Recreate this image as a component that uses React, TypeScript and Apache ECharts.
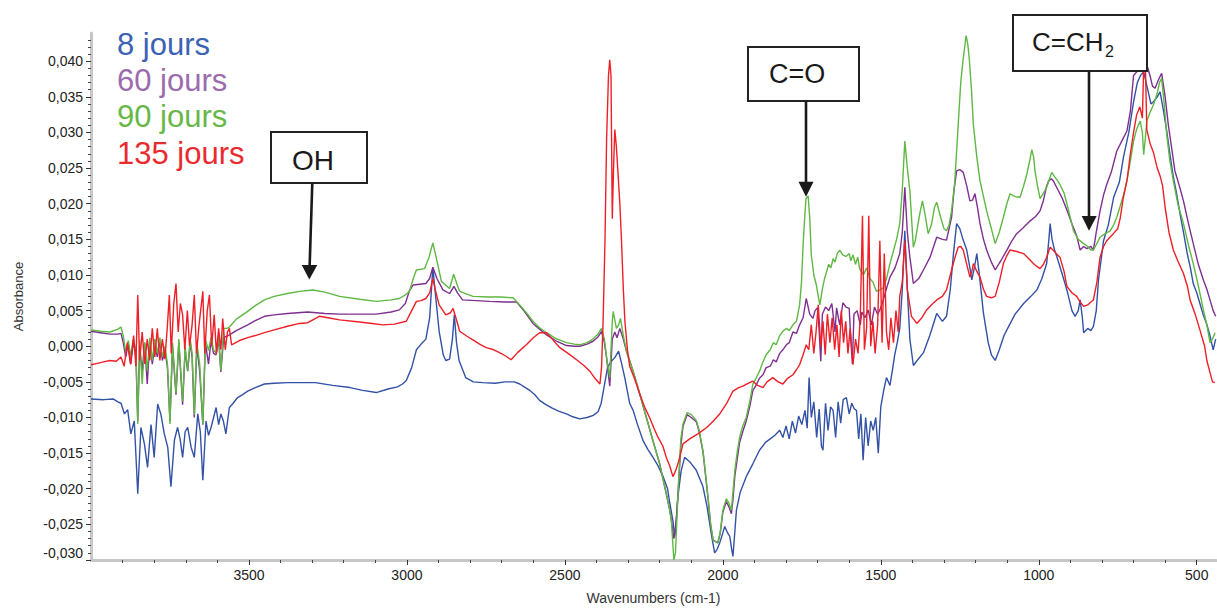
import React, { useEffect, useRef } from "react";
import * as echarts from "echarts";

// ---- data (wavenumber cm-1, absorbance) ----
const jours8: [number, number][] = [
  [4000,-0.0074],[3960,-0.0075],[3930,-0.0074],[3915,-0.0078],[3905,-0.0080],[3894,-0.0095],[3884,-0.0089],[3874,-0.0123],[3863,-0.0105],[3852,-0.0207],[3842,-0.0114],[3831,-0.0137],[3821,-0.0170],[3810,-0.0110],[3800,-0.0156],[3789,-0.0081],[3779,-0.0095],[3768,-0.0123],[3757,-0.0142],[3747,-0.0197],[3736,-0.0132],[3726,-0.0114],[3718,-0.0130],[3710,-0.0156],[3702,-0.0120],[3694,-0.0114],[3683,-0.0142],[3673,-0.0156],[3662,-0.0095],[3654,-0.0120],[3646,-0.0188],[3636,-0.0105],[3628,-0.0125],[3620,-0.0114],[3612,-0.0100],[3604,-0.0086],[3596,-0.0110],[3589,-0.0095],[3581,-0.0105],[3573,-0.0123],[3562,-0.0086],[3550,-0.0080],[3536,-0.0072],[3520,-0.0068],[3504,-0.0063],[3480,-0.0058],[3451,-0.0053],[3420,-0.0052],[3378,-0.0051],[3335,-0.0051],[3290,-0.0051],[3235,-0.0055],[3180,-0.0058],[3140,-0.0062],[3097,-0.0065],[3060,-0.0060],[3030,-0.0057],[3014,-0.0053],[3002,-0.0048],[2985,-0.0030],[2970,-0.0005],[2955,0.0003],[2940,0.0010],[2928,0.0040],[2918,0.0110],[2908,0.0065],[2898,0.0021],[2885,-0.0012],[2877,-0.0020],[2865,-0.0018],[2856,0.0010],[2850,0.0044],[2843,0.0005],[2835,-0.0020],[2814,-0.0044],[2790,-0.0050],[2760,-0.0051],[2720,-0.0052],[2690,-0.0050],[2660,-0.0050],[2643,-0.0053],[2625,-0.0058],[2611,-0.0062],[2595,-0.0068],[2580,-0.0076],[2560,-0.0082],[2540,-0.0087],[2520,-0.0091],[2495,-0.0095],[2475,-0.0099],[2453,-0.0102],[2430,-0.0100],[2410,-0.0097],[2395,-0.0092],[2385,-0.0080],[2375,-0.0055],[2365,-0.0030],[2355,-0.0022],[2342,-0.0016],[2330,-0.0007],[2320,-0.0025],[2310,-0.0045],[2295,-0.0080],[2284,-0.0090],[2270,-0.0110],[2253,-0.0132],[2237,-0.0145],[2221,-0.0156],[2205,-0.0168],[2189,-0.0183],[2175,-0.0200],[2168,-0.0220],[2158,-0.0245],[2152,-0.0267],[2147,-0.0240],[2142,-0.0210],[2132,-0.0175],[2121,-0.0156],[2105,-0.0162],[2084,-0.0174],[2063,-0.0197],[2050,-0.0225],[2042,-0.0248],[2034,-0.0270],[2026,-0.0290],[2018,-0.0285],[2010,-0.0276],[2000,-0.0262],[1994,-0.0253],[1985,-0.0262],[1978,-0.0267],[1972,-0.0285],[1968,-0.0295],[1962,-0.0260],[1957,-0.0230],[1945,-0.0205],[1926,-0.0183],[1905,-0.0165],[1884,-0.0146],[1865,-0.0135],[1850,-0.0130],[1835,-0.0125],[1820,-0.0118],[1810,-0.0128],[1800,-0.0112],[1790,-0.0130],[1780,-0.0105],[1770,-0.0122],[1760,-0.0098],[1750,-0.0110],[1740,-0.0090],[1733,-0.0115],[1727,-0.0044],[1720,-0.0100],[1712,-0.0078],[1703,-0.0128],[1695,-0.0088],[1688,-0.0140],[1683,-0.0146],[1675,-0.0080],[1667,-0.0118],[1659,-0.0085],[1651,-0.0090],[1643,-0.0128],[1635,-0.0078],[1627,-0.0108],[1619,-0.0075],[1609,-0.0072],[1600,-0.0095],[1592,-0.0080],[1584,-0.0088],[1577,-0.0090],[1570,-0.0130],[1563,-0.0095],[1556,-0.0160],[1548,-0.0100],[1540,-0.0140],[1532,-0.0105],[1524,-0.0118],[1516,-0.0100],[1508,-0.0150],[1500,-0.0085],[1490,-0.0060],[1482,-0.0044],[1471,-0.0055],[1462,-0.0030],[1456,-0.0012],[1448,0.0005],[1440,0.0025],[1432,0.0080],[1424,0.0162],[1416,0.0080],[1408,0.0010],[1397,-0.0027],[1385,-0.0020],[1365,-0.0009],[1345,0.0015],[1323,0.0046],[1305,0.0035],[1292,0.0042],[1280,0.0080],[1270,0.0130],[1260,0.0172],[1250,0.0165],[1240,0.0150],[1228,0.0135],[1218,0.0110],[1212,0.0093],[1204,0.0110],[1196,0.0130],[1188,0.0100],[1175,0.0046],[1160,0.0005],[1150,-0.0012],[1138,-0.0020],[1125,-0.0005],[1110,0.0015],[1101,0.0023],[1075,0.0045],[1048,0.0060],[1025,0.0070],[1006,0.0079],[990,0.0095],[975,0.0116],[968,0.0150],[964,0.0172],[958,0.0150],[950,0.0135],[943,0.0126],[925,0.0100],[911,0.0079],[895,0.0050],[885,0.0042],[875,0.0050],[869,0.0065],[862,0.0040],[858,0.0019],[845,0.0025],[835,0.0022],[827,0.0028],[818,0.0050],[811,0.0093],[803,0.0120],[795,0.0148],[780,0.0170],[763,0.0209],[745,0.0230],[732,0.0265],[715,0.0300],[700,0.0343],[688,0.0370],[678,0.0380],[668,0.0385],[655,0.0360],[645,0.0340],[637,0.0343],[625,0.0350],[616,0.0357],[605,0.0330],[595,0.0302],[585,0.0270],[575,0.0240],[564,0.0215],[553,0.0186],[542,0.0160],[530,0.0130],[520,0.0110],[511,0.0088],[500,0.0075],[490,0.0060],[480,0.0045],[469,0.0032],[458,0.0015],[448,-0.0005],[440,0.0010]
];

const jours60: [number, number][] = [
  [4000,0.0021],[3970,0.0019],[3940,0.0017],[3915,0.0017],[3905,0.0018],[3898,0.0005],[3890,-0.0015],[3882,0.0003],[3874,-0.0025],[3866,0.0005],[3858,-0.0010],[3852,-0.0105],[3846,0.0000],[3838,-0.0035],[3830,0.0005],[3822,-0.0053],[3814,0.0005],[3806,-0.0025],[3798,0.0000],[3790,-0.0015],[3782,0.0008],[3774,-0.0020],[3766,-0.0005],[3758,-0.0030],[3750,-0.0105],[3742,0.0000],[3731,-0.0068],[3722,0.0005],[3710,-0.0082],[3702,-0.0005],[3694,-0.0035],[3686,0.0005],[3680,-0.0015],[3673,-0.0100],[3665,0.0000],[3656,-0.0035],[3646,-0.0110],[3638,0.0005],[3628,-0.0025],[3620,0.0008],[3612,-0.0010],[3604,-0.0012],[3596,0.0010],[3589,-0.0036],[3580,0.0012],[3570,0.0014],[3562,0.0016],[3540,0.0022],[3504,0.0030],[3480,0.0036],[3451,0.0042],[3420,0.0044],[3378,0.0046],[3314,0.0048],[3260,0.0046],[3213,0.0045],[3150,0.0045],[3097,0.0045],[3050,0.0048],[3024,0.0051],[3005,0.0060],[2992,0.0078],[2980,0.0086],[2960,0.0087],[2940,0.0088],[2928,0.0095],[2918,0.0111],[2905,0.0095],[2886,0.0079],[2865,0.0074],[2851,0.0084],[2840,0.0075],[2824,0.0065],[2780,0.0064],[2738,0.0063],[2690,0.0062],[2653,0.0062],[2630,0.0050],[2601,0.0032],[2580,0.0024],[2558,0.0016],[2530,0.0008],[2495,0.0001],[2470,0.0000],[2453,0.0000],[2430,0.0003],[2411,0.0007],[2395,0.0013],[2384,0.0021],[2375,0.0005],[2368,-0.0016],[2358,-0.0056],[2350,0.0010],[2342,0.0020],[2335,0.0012],[2326,0.0025],[2315,0.0010],[2305,-0.0007],[2284,-0.0035],[2263,-0.0067],[2242,-0.0100],[2221,-0.0133],[2200,-0.0165],[2179,-0.0207],[2168,-0.0230],[2163,-0.0244],[2155,-0.0270],[2148,-0.0250],[2142,-0.0207],[2133,-0.0140],[2126,-0.0112],[2113,-0.0096],[2100,-0.0100],[2084,-0.0106],[2075,-0.0120],[2063,-0.0148],[2055,-0.0180],[2047,-0.0213],[2039,-0.0250],[2031,-0.0272],[2016,-0.0276],[2008,-0.0262],[2000,-0.0233],[1989,-0.0218],[1981,-0.0225],[1973,-0.0235],[1968,-0.0215],[1962,-0.0182],[1955,-0.0160],[1947,-0.0135],[1937,-0.0120],[1926,-0.0105],[1915,-0.0085],[1905,-0.0062],[1895,-0.0055],[1884,-0.0045],[1873,-0.0040],[1863,-0.0030],[1850,-0.0028],[1840,-0.0019],[1831,-0.0022],[1820,-0.0010],[1810,-0.0005],[1799,0.0002],[1790,0.0005],[1778,0.0020],[1767,0.0018],[1757,0.0030],[1746,0.0040],[1736,0.0067],[1725,0.0045],[1715,0.0039],[1708,0.0050],[1700,0.0054],[1695,0.0020],[1690,-0.0021],[1685,0.0045],[1675,0.0055],[1665,0.0050],[1655,0.0060],[1645,0.0020],[1640,0.0054],[1630,0.0030],[1620,0.0061],[1610,0.0055],[1600,0.0053],[1595,0.0010],[1590,-0.0025],[1585,0.0045],[1575,0.0050],[1565,0.0030],[1560,0.0048],[1550,0.0040],[1540,0.0051],[1530,0.0030],[1520,0.0055],[1510,0.0045],[1503,0.0051],[1492,0.0065],[1482,0.0081],[1471,0.0097],[1455,0.0110],[1440,0.0130],[1432,0.0160],[1424,0.0223],[1416,0.0160],[1408,0.0125],[1397,0.0088],[1380,0.0095],[1365,0.0107],[1344,0.0125],[1323,0.0153],[1305,0.0150],[1292,0.0149],[1276,0.0181],[1268,0.0220],[1260,0.0246],[1250,0.0248],[1239,0.0244],[1228,0.0225],[1218,0.0204],[1210,0.0205],[1202,0.0214],[1194,0.0195],[1186,0.0172],[1175,0.0150],[1165,0.0135],[1150,0.0118],[1138,0.0107],[1120,0.0120],[1101,0.0135],[1085,0.0148],[1070,0.0158],[1050,0.0166],[1027,0.0176],[1010,0.0182],[996,0.0190],[985,0.0205],[975,0.0225],[969,0.0232],[960,0.0235],[954,0.0232],[940,0.0220],[927,0.0209],[910,0.0190],[895,0.0172],[880,0.0155],[869,0.0135],[858,0.0140],[848,0.0137],[835,0.0140],[827,0.0135],[818,0.0160],[806,0.0190],[795,0.0212],[785,0.0227],[770,0.0245],[753,0.0274],[735,0.0290],[721,0.0302],[710,0.0330],[700,0.0380],[690,0.0385],[679,0.0390],[668,0.0404],[658,0.0395],[648,0.0380],[640,0.0365],[632,0.0362],[620,0.0375],[611,0.0383],[600,0.0350],[590,0.0311],[580,0.0280],[569,0.0246],[555,0.0225],[542,0.0204],[525,0.0170],[511,0.0144],[495,0.0115],[479,0.0093],[468,0.0080],[458,0.0065],[448,0.0050],[440,0.0042]
];

const jours90: [number, number][] = [
  [4000,0.0023],[3970,0.0021],[3940,0.0020],[3915,0.0024],[3905,0.0027],[3898,0.0015],[3890,-0.0008],[3882,0.0008],[3874,-0.0014],[3866,0.0010],[3858,-0.0005],[3852,-0.0109],[3846,0.0008],[3838,-0.0053],[3830,0.0005],[3822,-0.0034],[3814,0.0012],[3806,-0.0020],[3798,0.0010],[3790,-0.0010],[3782,0.0012],[3774,-0.0015],[3766,0.0000],[3758,-0.0025],[3750,-0.0109],[3742,0.0005],[3731,-0.0066],[3722,0.0010],[3710,-0.0078],[3702,0.0000],[3694,-0.0034],[3686,0.0010],[3680,-0.0010],[3673,-0.0096],[3665,0.0005],[3656,-0.0025],[3646,-0.0109],[3638,0.0010],[3628,-0.0006],[3620,0.0012],[3612,-0.0005],[3604,-0.0010],[3596,0.0015],[3589,-0.0034],[3580,0.0025],[3570,0.0025],[3562,0.0027],[3540,0.0038],[3504,0.0049],[3480,0.0057],[3451,0.0065],[3420,0.0070],[3378,0.0074],[3340,0.0077],[3298,0.0079],[3260,0.0076],[3213,0.0070],[3150,0.0066],[3097,0.0063],[3050,0.0065],[3024,0.0067],[3005,0.0072],[2992,0.0077],[2980,0.0095],[2970,0.0107],[2944,0.0109],[2930,0.0125],[2918,0.0145],[2905,0.0120],[2891,0.0091],[2865,0.0081],[2852,0.0101],[2840,0.0085],[2833,0.0077],[2791,0.0070],[2740,0.0069],[2700,0.0069],[2664,0.0068],[2643,0.0058],[2620,0.0046],[2601,0.0035],[2580,0.0026],[2558,0.0019],[2530,0.0011],[2495,0.0005],[2470,0.0003],[2453,0.0002],[2430,0.0005],[2411,0.0010],[2395,0.0017],[2384,0.0025],[2375,0.0010],[2368,-0.0016],[2358,-0.0044],[2350,0.0035],[2347,0.0049],[2337,0.0025],[2330,0.0030],[2324,0.0039],[2315,0.0015],[2305,-0.0007],[2284,-0.0035],[2263,-0.0067],[2242,-0.0100],[2221,-0.0133],[2200,-0.0165],[2179,-0.0207],[2168,-0.0230],[2163,-0.0244],[2158,-0.0280],[2155,-0.0300],[2150,-0.0290],[2142,-0.0207],[2133,-0.0130],[2126,-0.0109],[2113,-0.0093],[2100,-0.0096],[2084,-0.0104],[2075,-0.0118],[2063,-0.0146],[2055,-0.0178],[2047,-0.0211],[2039,-0.0248],[2031,-0.0272],[2016,-0.0276],[2008,-0.0260],[2000,-0.0230],[1989,-0.0214],[1981,-0.0220],[1973,-0.0230],[1968,-0.0205],[1962,-0.0174],[1955,-0.0150],[1947,-0.0128],[1937,-0.0112],[1926,-0.0100],[1915,-0.0078],[1905,-0.0053],[1895,-0.0045],[1884,-0.0035],[1873,-0.0022],[1863,-0.0012],[1850,-0.0005],[1840,0.0005],[1831,0.0002],[1820,0.0015],[1810,0.0021],[1799,0.0025],[1790,0.0022],[1778,0.0030],[1767,0.0035],[1757,0.0058],[1751,0.0090],[1746,0.0142],[1741,0.0180],[1737,0.0207],[1730,0.0211],[1725,0.0180],[1720,0.0128],[1712,0.0100],[1704,0.0086],[1698,0.0070],[1693,0.0058],[1685,0.0080],[1678,0.0095],[1672,0.0104],[1665,0.0115],[1658,0.0110],[1651,0.0123],[1645,0.0118],[1638,0.0130],[1630,0.0135],[1620,0.0128],[1610,0.0126],[1600,0.0130],[1595,0.0120],[1588,0.0128],[1580,0.0115],[1573,0.0125],[1567,0.0109],[1555,0.0100],[1545,0.0110],[1535,0.0095],[1525,0.0090],[1514,0.0077],[1503,0.0079],[1492,0.0082],[1482,0.0095],[1471,0.0116],[1461,0.0132],[1450,0.0150],[1440,0.0172],[1432,0.0220],[1424,0.0288],[1416,0.0250],[1408,0.0218],[1397,0.0139],[1390,0.0150],[1382,0.0172],[1375,0.0190],[1368,0.0204],[1360,0.0185],[1350,0.0158],[1340,0.0170],[1330,0.0195],[1323,0.0202],[1310,0.0180],[1300,0.0165],[1292,0.0162],[1284,0.0170],[1276,0.0190],[1266,0.0230],[1255,0.0311],[1247,0.0370],[1239,0.0404],[1230,0.0436],[1225,0.0425],[1220,0.0404],[1213,0.0360],[1207,0.0311],[1196,0.0265],[1186,0.0232],[1175,0.0210],[1165,0.0190],[1150,0.0165],[1138,0.0144],[1125,0.0160],[1112,0.0181],[1101,0.0200],[1091,0.0214],[1075,0.0210],[1059,0.0209],[1048,0.0225],[1038,0.0241],[1028,0.0262],[1022,0.0276],[1016,0.0265],[1012,0.0246],[1004,0.0225],[996,0.0207],[985,0.0215],[975,0.0223],[966,0.0235],[959,0.0244],[950,0.0238],[940,0.0232],[933,0.0227],[920,0.0215],[911,0.0200],[900,0.0180],[890,0.0162],[875,0.0150],[858,0.0144],[845,0.0140],[835,0.0135],[827,0.0135],[815,0.0145],[806,0.0153],[790,0.0158],[774,0.0162],[763,0.0170],[753,0.0181],[740,0.0200],[730,0.0215],[721,0.0232],[710,0.0260],[700,0.0288],[690,0.0305],[679,0.0316],[672,0.0300],[668,0.0269],[663,0.0290],[658,0.0316],[648,0.0328],[637,0.0339],[625,0.0355],[618,0.0370],[611,0.0376],[603,0.0340],[595,0.0297],[585,0.0260],[574,0.0232],[560,0.0200],[542,0.0172],[525,0.0140],[511,0.0116],[495,0.0085],[479,0.0051],[468,0.0030],[458,0.0005],[450,0.0010],[442,0.0019]
];

const jours135: [number, number][] = [
  [4000,-0.0026],[3980,-0.0024],[3960,-0.0022],[3940,-0.0020],[3920,-0.0021],[3905,-0.0015],[3895,-0.0028],[3885,0.0005],[3875,-0.0025],[3865,0.0015],[3858,-0.0028],[3852,0.0072],[3846,-0.0020],[3838,0.0020],[3830,-0.0025],[3822,0.0010],[3814,-0.0020],[3806,0.0025],[3798,-0.0015],[3790,0.0025],[3782,-0.0020],[3774,0.0010],[3766,-0.0018],[3758,0.0030],[3752,0.0072],[3746,-0.0010],[3738,0.0060],[3731,0.0088],[3724,0.0020],[3717,0.0060],[3710,0.0044],[3703,-0.0005],[3695,0.0050],[3688,0.0000],[3680,0.0030],[3673,0.0072],[3666,-0.0010],[3658,0.0030],[3646,0.0077],[3640,-0.0010],[3632,0.0050],[3625,0.0072],[3618,0.0000],[3610,0.0044],[3603,-0.0010],[3596,0.0025],[3589,-0.0005],[3583,0.0039],[3575,-0.0005],[3568,0.0020],[3562,0.0025],[3555,0.0002],[3530,0.0008],[3504,0.0012],[3480,0.0015],[3451,0.0019],[3420,0.0023],[3378,0.0028],[3340,0.0032],[3314,0.0033],[3277,0.0042],[3250,0.0040],[3213,0.0037],[3150,0.0034],[3110,0.0032],[3076,0.0030],[3040,0.0031],[3002,0.0035],[2985,0.0050],[2970,0.0063],[2955,0.0064],[2940,0.0067],[2928,0.0075],[2918,0.0095],[2908,0.0075],[2898,0.0058],[2877,0.0044],[2862,0.0047],[2854,0.0053],[2845,0.0040],[2833,0.0021],[2810,0.0014],[2791,0.0009],[2770,0.0003],[2749,-0.0002],[2725,-0.0005],[2707,-0.0009],[2690,-0.0013],[2670,-0.0019],[2650,-0.0009],[2622,0.0002],[2600,0.0012],[2580,0.0019],[2558,0.0019],[2540,0.0010],[2516,-0.0002],[2490,-0.0010],[2463,-0.0019],[2440,-0.0027],[2421,-0.0035],[2405,-0.0045],[2389,-0.0053],[2384,-0.0030],[2379,0.0035],[2373,0.0150],[2368,0.0290],[2362,0.0380],[2358,0.0402],[2354,0.0380],[2350,0.0179],[2346,0.0250],[2342,0.0304],[2337,0.0280],[2332,0.0244],[2326,0.0200],[2321,0.0151],[2315,0.0080],[2310,0.0035],[2302,-0.0005],[2295,-0.0028],[2280,-0.0045],[2263,-0.0067],[2248,-0.0085],[2232,-0.0100],[2218,-0.0115],[2205,-0.0128],[2190,-0.0140],[2179,-0.0156],[2168,-0.0168],[2158,-0.0183],[2150,-0.0175],[2142,-0.0165],[2126,-0.0137],[2105,-0.0130],[2079,-0.0123],[2051,-0.0114],[2030,-0.0105],[2010,-0.0095],[1989,-0.0081],[1968,-0.0063],[1950,-0.0058],[1937,-0.0056],[1920,-0.0052],[1905,-0.0049],[1890,-0.0055],[1873,-0.0058],[1860,-0.0050],[1842,-0.0044],[1825,-0.0050],[1810,-0.0053],[1795,-0.0045],[1778,-0.0040],[1767,-0.0033],[1757,-0.0026],[1746,-0.0012],[1736,0.0002],[1728,-0.0005],[1720,0.0030],[1712,-0.0010],[1705,0.0020],[1698,0.0058],[1690,0.0000],[1683,0.0035],[1676,-0.0012],[1669,0.0045],[1661,0.0005],[1654,0.0040],[1646,-0.0005],[1639,0.0030],[1632,-0.0015],[1625,0.0050],[1618,0.0005],[1611,0.0035],[1604,-0.0010],[1597,0.0025],[1588,-0.0026],[1580,0.0010],[1572,-0.0010],[1565,0.0040],[1558,0.0183],[1552,-0.0005],[1545,0.0025],[1538,0.0183],[1532,0.0000],[1525,0.0035],[1518,-0.0010],[1510,0.0030],[1503,0.0148],[1496,0.0005],[1489,0.0130],[1482,0.0020],[1475,-0.0005],[1468,0.0040],[1460,0.0005],[1452,0.0050],[1445,0.0020],[1440,0.0070],[1432,0.0090],[1424,0.0148],[1416,0.0080],[1403,0.0042],[1386,0.0032],[1370,0.0040],[1355,0.0051],[1340,0.0058],[1323,0.0065],[1305,0.0070],[1292,0.0079],[1276,0.0107],[1265,0.0125],[1255,0.0139],[1247,0.0140],[1239,0.0135],[1228,0.0115],[1218,0.0097],[1212,0.0105],[1207,0.0116],[1196,0.0105],[1186,0.0097],[1175,0.0080],[1165,0.0070],[1150,0.0068],[1138,0.0070],[1125,0.0090],[1112,0.0116],[1100,0.0128],[1091,0.0135],[1070,0.0133],[1048,0.0130],[1030,0.0122],[1017,0.0116],[1006,0.0112],[996,0.0109],[985,0.0115],[975,0.0125],[964,0.0139],[955,0.0135],[945,0.0130],[933,0.0125],[920,0.0105],[911,0.0084],[895,0.0075],[880,0.0070],[869,0.0062],[858,0.0056],[845,0.0058],[835,0.0062],[827,0.0065],[816,0.0090],[806,0.0125],[795,0.0140],[785,0.0148],[764,0.0158],[750,0.0165],[742,0.0180],[733,0.0207],[720,0.0235],[711,0.0267],[700,0.0300],[690,0.0325],[680,0.0336],[672,0.0320],[668,0.0392],[663,0.0404],[658,0.0304],[648,0.0285],[637,0.0272],[625,0.0250],[616,0.0239],[608,0.0225],[600,0.0195],[588,0.0160],[574,0.0135],[560,0.0120],[542,0.0102],[530,0.0085],[521,0.0065],[505,0.0045],[490,0.0023],[475,0.0000],[468,-0.0020],[458,-0.0037],[450,-0.0050],[442,-0.0051]
];

const seriesNames = ["8 jours", "60 jours", "90 jours", "135 jours"];
const lineColors = ["#3352a6", "#7f2f90", "#5fb843", "#ee1f26"];
const legendColors = ["#3b62b3", "#9b6bae", "#67b848", "#e92a2e"];

const xMajorTicks = [500, 1000, 1500, 2000, 2500, 3000, 3500];
const xMinorTicks = [600, 700, 800, 900, 1100, 1200, 1300, 1400, 1600, 1700, 1800, 1900, 2100, 2200, 2300, 2400, 2600, 2700, 2800, 2900, 3100, 3200, 3300, 3400, 3600, 3700, 3800, 3900];
const yMajorTicks = [-0.03, -0.025, -0.02, -0.015, -0.01, -0.005, 0, 0.005, 0.01, 0.015, 0.02, 0.025, 0.03, 0.035, 0.04];

const X_MIN = 439;
const X_MAX = 4000;
const Y_MIN = -0.03;
const Y_MAX = 0.04396;

const FONT = '"Liberation Sans", Arial, sans-serif';

function yMinorTicks(): number[] {
  const out: number[] = [];
  for (let i = -29; i <= 43; i++) {
    if (i % 5 !== 0) out.push(i / 1000);
  }
  return out;
}

function fmtY(v: number): string {
  const s = Math.abs(v).toFixed(3).replace(".", ",");
  return v < -1e-9 ? "-" + s : s;
}

function textWidth(text: string, font: string): number {
  const c = document.createElement("canvas");
  const ctx = c.getContext("2d");
  if (!ctx) return text.length * 15;
  ctx.font = font;
  return ctx.measureText(text).width;
}

export default function App() {
  const ref = useRef<HTMLDivElement>(null);

  useEffect(() => {
    if (!ref.current) return;
    const chart = echarts.init(ref.current, null, { renderer: "svg" });
    const allData = [jours8, jours60, jours90, jours135];

    const legendBaselines = [55, 91, 127, 164];
    const legendTexts = seriesNames.map((n, i) => ({
      type: "text",
      x: 117,
      y: legendBaselines[i] - 10.8,
      style: {
        text: n,
        fill: legendColors[i],
        font: `31px ${FONT}`,
        align: "left",
        verticalAlign: "middle",
        textAlign: "left",
        textVerticalAlign: "middle",
      },
      z: 100,
    }));

    const boxStyle = { fill: "#ffffff", stroke: "#222222", lineWidth: 2 };
    const arrowStroke = { stroke: "#1a1a1a", lineWidth: 2.6 };
    const arrowFill = { fill: "#1a1a1a" };
    const txt = (text: string, x: number, y: number, size: number) => ({
      type: "text",
      x,
      y,
      style: {
        text,
        fill: "#1a1a1a",
        font: `${size}px ${FONT}`,
        align: "left",
        verticalAlign: "middle",
        textAlign: "left",
        textVerticalAlign: "middle",
      },
      z: 101,
    });

    const cchFont = `26px ${FONT}`;
    const cchX = 1032;
    const subX = cchX + textWidth("C=CH", cchFont) + 1.5;

    const annotations = [
      { type: "rect", shape: { x: 271, y: 132, width: 96, height: 51 }, style: boxStyle, z: 100 },
      txt("OH", 292, 160.3, 28),
      { type: "line", shape: { x1: 312.3, y1: 183, x2: 309.6, y2: 267 }, style: arrowStroke, z: 100 },
      { type: "polygon", shape: { points: [[301.7, 265], [317.3, 265], [309.3, 279.5]] }, style: arrowFill, z: 100 },

      { type: "rect", shape: { x: 748, y: 47, width: 111, height: 54 }, style: boxStyle, z: 100 },
      txt("C=O", 769, 73.6, 27),
      { type: "line", shape: { x1: 806, y1: 101, x2: 806, y2: 184 }, style: arrowStroke, z: 100 },
      { type: "polygon", shape: { points: [[798.5, 181.7], [813.5, 181.7], [806, 196.7]] }, style: arrowFill, z: 100 },

      { type: "rect", shape: { x: 1013, y: 15, width: 134, height: 56 }, style: boxStyle, z: 100 },
      txt("C=CH", cchX, 42, 26),
      txt("2", subX, 51.2, 16),
      { type: "line", shape: { x1: 1089, y1: 71, x2: 1089, y2: 218 }, style: arrowStroke, z: 100 },
      { type: "polygon", shape: { points: [[1081.7, 216], [1096.7, 216], [1089, 230.7]] }, style: arrowFill, z: 100 },
    ];

    const option: any = {
      animation: false,
      backgroundColor: "#ffffff",
      grid: { left: 91, right: 1, top: 33, bottom: 46, containLabel: false },
      xAxis: [
        {
          type: "value",
          position: "bottom",
          min: X_MIN,
          max: X_MAX,
          inverse: true,
          name: "Wavenumbers (cm-1)",
          nameLocation: "middle",
          nameGap: 31,
          nameTextStyle: { fontFamily: FONT, fontSize: 14, color: "#333333" },
          axisLine: { show: true, onZero: false, lineStyle: { color: "#c6c6c6", width: 3 } },
          axisTick: { show: true, customValues: xMajorTicks, length: 5, lineStyle: { color: "#333333", width: 1 } },
          axisLabel: {
            customValues: xMajorTicks,
            margin: 8,
            fontFamily: FONT,
            fontSize: 14,
            color: "#222222",
            formatter: (v: number) => String(Math.round(v)),
          },
          splitLine: { show: false },
        },
        {
          type: "value",
          position: "bottom",
          min: X_MIN,
          max: X_MAX,
          inverse: true,
          axisLine: { show: false, onZero: false },
          axisTick: { show: true, customValues: xMinorTicks, length: 3, lineStyle: { color: "#444444", width: 1 } },
          axisLabel: { show: false, customValues: xMinorTicks },
          splitLine: { show: false },
        },
      ],
      yAxis: [
        {
          type: "value",
          position: "left",
          min: Y_MIN,
          max: Y_MAX,
          name: "Absorbance",
          nameLocation: "middle",
          nameGap: 66,
          nameRotate: 90,
          nameTextStyle: { fontFamily: FONT, fontSize: 13, color: "#333333" },
          axisLine: { show: true, onZero: false, lineStyle: { color: "#c6c6c6", width: 3 } },
          axisTick: { show: true, customValues: yMajorTicks, length: 5, lineStyle: { color: "#333333", width: 1 } },
          axisLabel: {
            customValues: yMajorTicks,
            margin: 8,
            fontFamily: FONT,
            fontSize: 14,
            color: "#222222",
            formatter: (v: number) => fmtY(v),
            verticalAlignMinLabel: "bottom",
          },
          splitLine: { show: false },
        },
        {
          type: "value",
          position: "left",
          min: Y_MIN,
          max: Y_MAX,
          axisLine: { show: false, onZero: false },
          axisTick: { show: true, customValues: yMinorTicks(), length: 3, lineStyle: { color: "#444444", width: 1 } },
          axisLabel: { show: false, customValues: yMinorTicks() },
          splitLine: { show: false },
        },
      ],
      series: allData.map((d, i) => ({
        name: seriesNames[i],
        type: "line",
        xAxisIndex: 0,
        yAxisIndex: 0,
        data: d,
        showSymbol: false,
        symbol: "none",
        lineStyle: { color: lineColors[i], width: 1.4 },
        itemStyle: { color: lineColors[i] },
        z: 2 + i,
      })),
      graphic: [...legendTexts, ...annotations],
    };

    chart.setOption(option);
    return () => chart.dispose();
  }, []);

  return (
    <div
      ref={ref}
      style={{ position: "absolute", left: 0, top: 0, width: 1217, height: 610, background: "#fff" }}
    />
  );
}
